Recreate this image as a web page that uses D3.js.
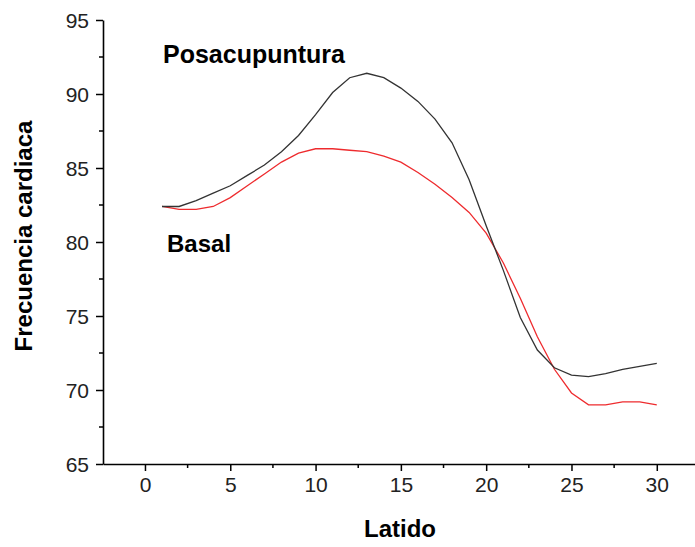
<!DOCTYPE html>
<html>
<head>
<meta charset="utf-8">
<script src="https://cdn.jsdelivr.net/npm/d3@7"></script>
<style>
body { margin: 0; background: #fff; }
text { font-family: "Liberation Sans", Arial, sans-serif; }
</style>
</head>
<body>
<div id="chart-area"></div>
<script>

let width = 695,
height = 547;

// data
let latido = d3.range(1, 31);
let posacupuntura = [82.4, 82.4, 82.8, 83.3, 83.8, 84.5, 85.2, 86.1, 87.2, 88.6,
	90.1, 91.1, 91.4, 91.1, 90.4, 89.5, 88.3, 86.7, 84.2, 81.1,
	78.1, 74.9, 72.7, 71.5, 71.0, 70.9, 71.1, 71.4, 71.6, 71.8];
let basal = [82.4, 82.2, 82.2, 82.4, 83.0, 83.8, 84.6, 85.4, 86.0, 86.3,
	86.3, 86.2, 86.1, 85.8, 85.4, 84.7, 83.9, 83.0, 82.0, 80.6,
	78.6, 76.2, 73.6, 71.4, 69.8, 69.0, 69.0, 69.2, 69.2, 69.0];
let xTicks = [0, 5, 10, 15, 20, 25, 30];
let yTicks = [65, 70, 75, 80, 85, 90, 95];

let svg = d3.select("#chart-area").append("svg")
.attr("width", width)
.attr("height", height);

let mLeft = 103, mTop = 20, mBottom = 464;

let x = d3.scaleLinear()
	.domain([-2.46, 32.24])
	.range([mLeft, width]);
let y = d3.scaleLinear()
	.domain([65, 95])
	.range([mBottom, mTop]);

// minor ticks (half steps)
let xMinor = d3.range(-2.5, 32.5, 2.5).filter(d => d > -2.46 && !xTicks.includes(d));
let yMinor = d3.range(67.5, 95, 5);

svg.selectAll(".xminor")
	.data(xMinor)
	.enter().append("line")
	.attr("x1", d => x(d)).attr("x2", d => x(d))
	.attr("y1", mBottom).attr("y2", mBottom + 4)
	.style("stroke", "#000").style("stroke-width", 1.5);

svg.selectAll(".yminor")
	.data(yMinor)
	.enter().append("line")
	.attr("x1", mLeft - 4).attr("x2", mLeft)
	.attr("y1", d => y(d)).attr("y2", d => y(d))
	.style("stroke", "#000").style("stroke-width", 1.5);

let xAxis = d3.axisBottom(x).tickValues(xTicks).tickSize(7).tickPadding(6).tickSizeOuter(0);
let yAxis = d3.axisLeft(y).tickValues(yTicks).tickSize(7).tickPadding(7).tickSizeOuter(0);

let gx = svg.append("g")
	.attr("transform", "translate(0," + mBottom + ")")
	.call(xAxis);
let gy = svg.append("g")
	.attr("transform", "translate(" + mLeft + ",0)")
	.call(yAxis);

[gx, gy].forEach(g => {
	g.select(".domain").style("stroke", "#000").style("stroke-width", 1.6);
	g.selectAll(".tick line").style("stroke", "#000").style("stroke-width", 1.5);
	g.selectAll(".tick text")
		.style("font-family", "'Liberation Sans', Arial, sans-serif")
		.style("font-size", "21px")
		.style("fill", "#222");
});
gy.selectAll(".tick text").attr("dy", "0.36em");

let line = d3.line()
	.x((d, i) => x(latido[i]))
	.y(d => y(d));

svg.append("path")
	.attr("d", line(basal))
	.style("fill", "none")
	.style("stroke", "#ee2b2e")
	.style("stroke-width", 1.3);

svg.append("path")
	.attr("d", line(posacupuntura))
	.style("fill", "none")
	.style("stroke", "#333")
	.style("stroke-width", 1.3);

// labels
svg.append("text")
	.attr("x", 163).attr("y", 63)
	.style("font-weight", "bold").style("font-size", "25px")
	.text("Posacupuntura");

svg.append("text")
	.attr("x", 167).attr("y", 252)
	.style("font-weight", "bold").style("font-size", "24px")
	.text("Basal");

svg.append("text")
	.attr("x", 400).attr("y", 537)
	.attr("text-anchor", "middle")
	.style("font-weight", "bold").style("font-size", "24px")
	.text("Latido");

svg.append("text")
	.attr("transform", "translate(32,236) rotate(-90)")
	.attr("text-anchor", "middle")
	.style("font-weight", "bold").style("font-size", "24px")
	.text("Frecuencia cardiaca");

</script>
</body>
</html>
